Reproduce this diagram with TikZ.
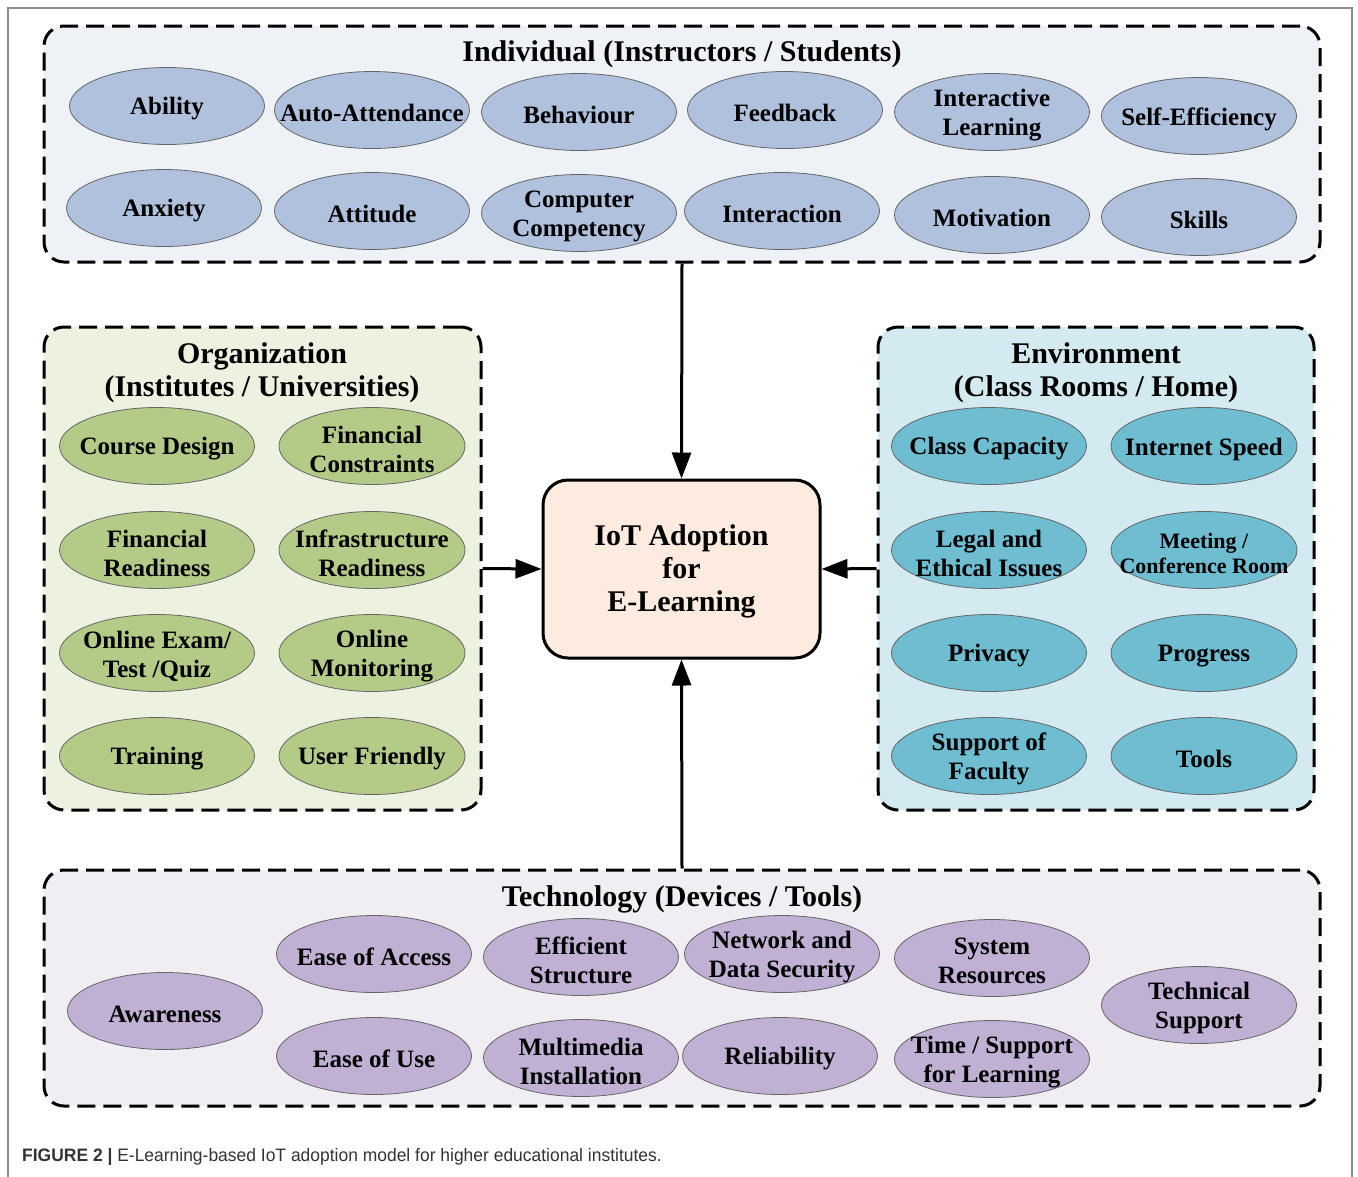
\documentclass[tikz,border=0pt]{standalone}
\usepackage{fontspec}
\setmainfont{Liberation Serif}
\newfontfamily\capfont{Liberation Sans}
\usetikzlibrary{shapes.geometric,arrows.meta}
\definecolor{indfill}{HTML}{EEF1F6}
\definecolor{indell}{HTML}{AFC1DC}
\definecolor{orgfill}{HTML}{EDF1E0}
\definecolor{orgell}{HTML}{B4CB88}
\definecolor{envfill}{HTML}{D3EAF0}
\definecolor{envell}{HTML}{6EBDD1}
\definecolor{tecfill}{HTML}{F0EEF3}
\definecolor{tecell}{HTML}{C0B1D4}
\definecolor{cenfill}{HTML}{FDEBDF}
\definecolor{capgray}{HTML}{333333}
\tikzset{
  region/.style={draw=black, line width=3pt, dash pattern=on 18pt off 8pt, rounded corners=20pt, inner sep=0pt},
  elltext/.style={align=center, inner sep=0pt, yshift=-3pt, font=\fontsize{25}{29}\selectfont\bfseries},
  smalltext/.style={elltext, font=\fontsize{22}{25}\selectfont\bfseries},
  ell/.style={ellipse, draw=black!60, line width=0.8pt, minimum width=195pt, minimum height=77pt, inner sep=0pt},
  ind/.style={ell, fill=indell, label={[elltext]center:#1}},
  org/.style={ell, fill=orgell, label={[elltext]center:#1}},
  env/.style={ell, fill=envell, label={[elltext]center:#1}},
  tec/.style={ell, fill=tecell, label={[elltext]center:#1}},
  title/.style={align=center, font=\fontsize{30}{33}\selectfont\bfseries, inner sep=0pt},
  arr/.style={line width=3pt, -{Triangle[length=26pt, width=19pt]}},
}
\begin{document}
\begin{tikzpicture}[x=1pt, y=-1pt]
\useasboundingbox (0,0) rectangle (1358,1176);
% outer frame
\draw[line width=1.5pt, draw=black!45] (8,1190) -- (8,8) -- (1352,8) -- (1352,1190);

% regions
\node[region, fill=indfill, minimum width=1276pt, minimum height=236pt] (indiv) at (682,144) {};
\node[region, fill=orgfill, minimum width=437pt, minimum height=483pt] (org) at (262.5,568.5) {};
\node[region, fill=envfill, minimum width=436pt, minimum height=483pt] (env) at (1096,568.5) {};
\node[region, fill=tecfill, minimum width=1276pt, minimum height=236pt] (tech) at (682,988) {};

% titles
\node[title] (tind) at (682,54) {Individual (Instructors / Students)};
\node[title] (torg) at (262,373) {Organization\\(Institutes / Universities)};
\node[title] (tenv) at (1096,373) {Environment\\(Class Rooms / Home)};
\node[title] (ttec) at (682,899) {Technology (Devices / Tools)};

% individual
\node[ind={Ability}] (i1) at (167,106) {};
\node[ind={Auto-Attendance}] (i2) at (372,110) {};
\node[ind={Behaviour}] (i3) at (579,112) {};
\node[ind={Feedback}] (i4) at (785,110) {};
\node[ind={Interactive\\Learning}] (i5) at (992,112) {};
\node[ind={Self-Efficiency}] (i6) at (1199,116) {};
\node[ind={Anxiety}] (i7) at (164,208) {};
\node[ind={Attitude}] (i8) at (372,211) {};
\node[ind={Computer\\Competency}] (i9) at (579,213) {};
\node[ind={Interaction}] (i10) at (782,211) {};
\node[ind={Motivation}] (i11) at (992,215) {};
\node[ind={Skills}] (i12) at (1199,217) {};

% organization
\node[org={Course Design}] (o1) at (157,446) {};
\node[org={Financial\\Constraints}, minimum width=186pt] (o2) at (372,446) {};
\node[org={Financial\\Readiness}] (o3) at (157,550) {};
\node[org={Infrastructure\\Readiness}, minimum width=186pt] (o4) at (372,550) {};
\node[org={Online Exam/\\Test /Quiz}] (o5) at (157,653) {};
\node[org={Online\\Monitoring}, minimum width=186pt] (o6) at (372,653) {};
\node[org={Training}] (o7) at (157,756) {};
\node[org={User Friendly}, minimum width=186pt] (o8) at (372,756) {};

% environment
\node[env={Class Capacity}] (e1) at (989,446) {};
\node[env={Internet Speed}, minimum width=186pt] (e2) at (1204,446) {};
\node[env={Legal and\\Ethical Issues}] (e3) at (989,550) {};
\node[ell, fill=envell, minimum width=186pt, label={[smalltext]center:Meeting /\\Conference Room}] (e4) at (1204,550) {};
\node[env={Privacy}] (e5) at (989,653) {};
\node[env={Progress}, minimum width=186pt] (e6) at (1204,653) {};
\node[env={Support of\\Faculty}] (e7) at (989,756) {};
\node[env={Tools}, minimum width=186pt] (e8) at (1204,756) {};

% technology
\node[tec={Awareness}] (t1) at (165,1011) {};
\node[tec={Ease of Access}] (t2) at (374,954) {};
\node[tec={Ease of Use}] (t3) at (374,1056) {};
\node[tec={Efficient\\Structure}] (t4) at (581,957) {};
\node[tec={Multimedia\\Installation}] (t5) at (581,1058) {};
\node[tec={Network and\\Data Security}] (t6) at (782,954) {};
\node[tec={Reliability}] (t7) at (780,1056) {};
\node[tec={System\\Resources}] (t8) at (992,958) {};
\node[tec={Time / Support\\for Learning}] (t9) at (992,1059) {};
\node[tec={Technical\\Support}] (t10) at (1199,1005) {};

% center
\node[draw=black, line width=3pt, fill=cenfill, rounded corners=25pt, minimum width=277pt, minimum height=178pt, align=center, font=\fontsize{30}{33}\selectfont\bfseries] (cen) at (681.5,569) {};
\node[align=center, inner sep=0pt, font=\fontsize{30}{33}\selectfont\bfseries] (centxt) at (681.5,571) {IoT Adoption\\for\\E-Learning};

% arrows
\draw[arr] (indiv.south) -- (cen.north);
\draw[arr] (tech.north) -- (cen.south);
\draw[arr] (org.east) -- (cen.west);
\draw[arr] (env.west) -- (cen.east);

% caption
\node[anchor=west, inner sep=0pt, text=capgray, font=\capfont\fontsize{18}{21}\selectfont] (cap) at (22,1157) {\scalebox{0.97}[1]{\textbf{FIGURE 2 |} E-Learning-based IoT adoption model for higher educational institutes.}};
\end{tikzpicture}
\end{document}
